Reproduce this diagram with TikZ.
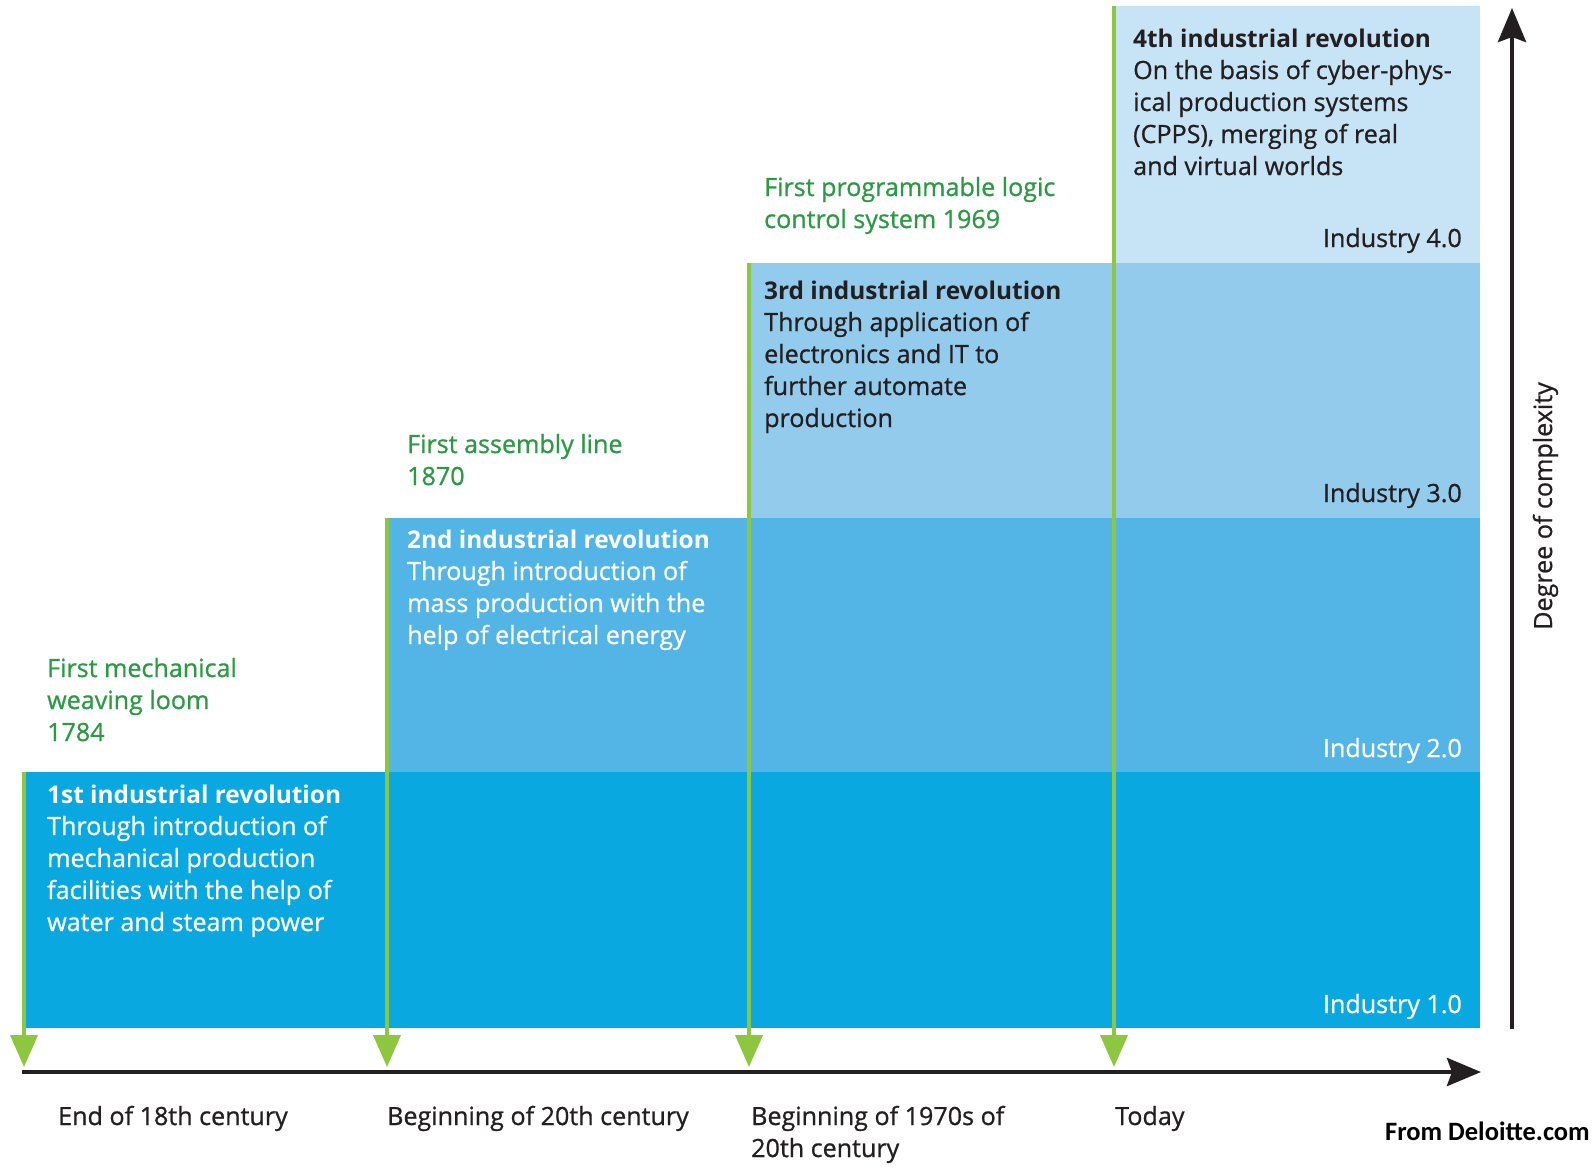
\documentclass[tikz,border=0pt]{standalone}
\usepackage{fontspec}
\setmainfont{Open Sans}[UprightFeatures={FakeBold=0.8}]
\newfontfamily\credfont{Carlito}
\usetikzlibrary{arrows.meta}
\definecolor{bandA}{HTML}{0AA8E0}
\definecolor{bandB}{HTML}{52B5E6}
\definecolor{bandC}{HTML}{93CBEC}
\definecolor{bandD}{HTML}{C7E3F6}
\definecolor{lineG}{HTML}{8DC63F}
\definecolor{textG}{HTML}{2C9944}
\definecolor{textD}{HTML}{231F20}
\newcommand{\tblock}[1]{\parbox[t]{520pt}{\fontsize{25.1}{32}\selectfont\raggedright #1}}
\newcommand{\hd}[1]{{\fontsize{24.4}{32}\selectfont\bfseries #1}}
\tikzset{
  band/.style={draw=none, inner sep=0pt, anchor=north west},
  gline/.style={draw=lineG, line width=4pt, -{Triangle[length=32pt,width=27pt]}},
  axisline/.style={draw=textD, line width=4.5pt, -{Stealth[length=34pt,width=28pt,inset=5pt]}},
  txt/.style={inner sep=0pt, anchor=base west},
  rtxt/.style={inner sep=0pt, anchor=base east, font=\fontsize{25.1}{32}\selectfont},
}
\begin{document}
\begin{tikzpicture}[x=1pt,y=-1pt]
\useasboundingbox[fill=white] (0,0) rectangle (1596,1168);
% bands
\node[band, fill=bandA, minimum width=1456pt, minimum height=256pt] (b1) at (24,772) {};
\node[band, fill=bandB, minimum width=1093pt, minimum height=254pt] (b2) at (387,518) {};
\node[band, fill=bandC, minimum width=731pt, minimum height=255pt] (b3) at (749,263) {};
\node[band, fill=bandD, minimum width=366pt, minimum height=257pt] (b4) at (1114,6) {};
% axes
\coordinate (o) at (22,1072);
\coordinate (xe) at (1481,1072);
\coordinate (ys) at (1512,1029);
\coordinate (ye) at (1512,8);
\draw[axisline] (o) -- (xe);
\draw[axisline] (ys) -- (ye);
% green markers
\coordinate (t1) at (24,1067);
\coordinate (t2) at (387,1067);
\coordinate (t3) at (749,1067);
\coordinate (t4) at (1114,1067);
\draw[gline] (b1.north west) -- (t1);
\draw[gline] (b2.north west) -- (t2);
\draw[gline] (b3.north west) -- (t3);
\draw[gline] (b4.north west) -- (t4);
% green event texts
\node[txt, text=textG] (e1) at (47,677) {\tblock{First mechanical\\weaving loom\\1784}};
\node[txt, text=textG] (e2) at (407,453) {\tblock{First assembly line\\1870}};
\node[txt, text=textG] (e3) at (764,196) {\tblock{First programmable logic\\control system 1969}};
% revolution texts
\node[txt, text=white] (r1) at (47,803) {\tblock{\hd{1st industrial revolution}\\Through introduction of\\mechanical production\\facilities with the help of\\water and steam power}};
\node[txt, text=white] (r2) at (407,548) {\tblock{\hd{2nd industrial revolution}\\Through introduction of\\mass production with the\\help of electrical energy}};
\node[txt, text=textD] (r3) at (764,299) {\tblock{\hd{3rd industrial revolution}\\Through application of\\electronics and IT to\\further automate\\production}};
\node[txt, text=textD] (r4) at (1133,47) {\tblock{\hd{4th industrial revolution}\\On the basis of cyber-phys-\\ical production systems\\(CPPS), merging of real\\and virtual worlds}};
% industry labels
\node[rtxt, text=textD] (i4) at (1462,247) {Industry 4.0};
\node[rtxt, text=textD] (i3) at (1462,502) {Industry 3.0};
\node[rtxt, text=white] (i2) at (1462,757) {Industry 2.0};
\node[rtxt, text=white] (i1) at (1462,1013) {Industry 1.0};
% time labels
\node[txt, text=textD] (d1) at (58,1125) {\tblock{End of 18th century}};
\node[txt, text=textD] (d2) at (387,1125) {\tblock{Beginning of 20th century}};
\node[txt, text=textD] (d3) at (751,1125) {\tblock{Beginning of 1970s of\\20th century}};
\node[txt, text=textD] (d4) at (1115,1125) {\tblock{Today}};
% vertical axis label
\node[inner sep=0pt, anchor=base, rotate=90, text=textD, font=\fontsize{25.1}{32}\selectfont] (yl) at (1552,506) {Degree of complexity};
% credit
\node[inner sep=0pt, anchor=base east, text=black, font=\credfont\bfseries\fontsize{26.5}{30}\selectfont] (cr) at (1590,1140) {From Deloitte.com};
\end{tikzpicture}
\end{document}
